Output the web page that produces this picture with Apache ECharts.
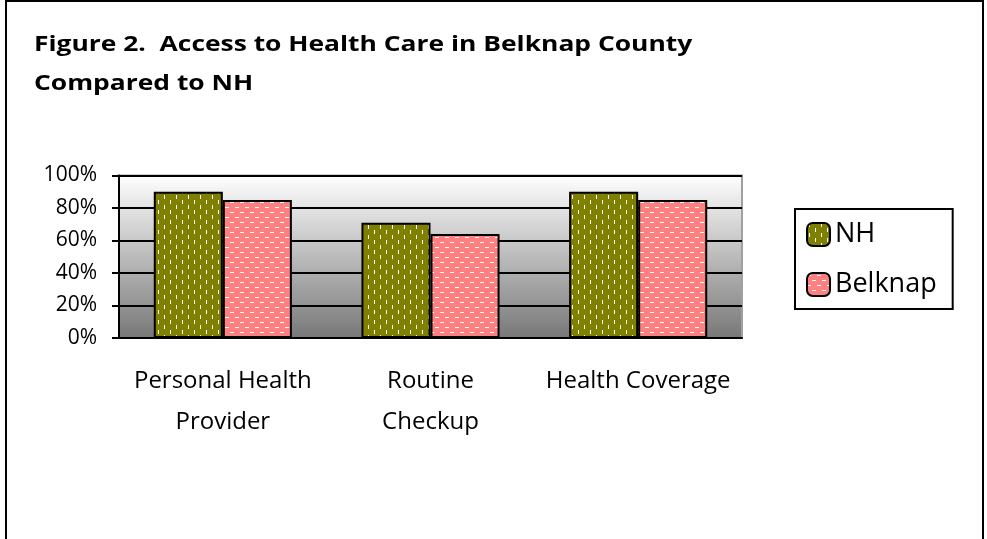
<!DOCTYPE html>
<html>
<head>
<meta charset="utf-8">
<script src="https://cdn.jsdelivr.net/npm/echarts@6/dist/echarts.min.js"></script>
<style>
  html, body { margin: 0; padding: 0; background: #fff; }
  #chart { width: 987px; height: 539px; }
</style>
</head>
<body>
<div id="chart"></div>
<script>
// data
const categories = ['Personal Health\nProvider', 'Routine\nCheckup', 'Health Coverage'];
const nhValues = [90, 71, 90];
const belknapValues = [85, 64, 85];
const yTicks = [0, 20, 40, 60, 80, 100];

// dashed fill patterns like the old Excel textures
function makePattern(bg, vertical) {
    const c = document.createElement('canvas');
    c.width = vertical ? 12 : 10;
    c.height = 10;
    const ctx = c.getContext('2d');
    ctx.fillStyle = bg;
    ctx.fillRect(0, 0, c.width, c.height);
    ctx.fillStyle = '#ffffff';
    if (vertical) {
        ctx.fillRect(2, 0, 1, 4);
        ctx.fillRect(8, 5, 1, 4);
    } else {
        ctx.fillRect(0, 2, 4, 1);
        ctx.fillRect(5, 7, 4, 1);
    }
    return { image: c, repeat: 'repeat' };
}

const chart = echarts.init(document.getElementById('chart'));

const options = {
    animation: false,
    backgroundColor: '#ffffff',
    textStyle: { fontFamily: 'Open Sans' },
    graphic: [
        { // outer frame
            type: 'rect',
            shape: { x: 6, y: 1, width: 977, height: 560 },
            style: { fill: 'none', stroke: '#000', lineWidth: 2 }
        },
        { // title is letter-spaced in the original, so stretch it a bit
            type: 'text', x: 34, y: 25, scaleX: 1.2,
            style: {
                text: 'Figure 2.  Access to Health Care in Belknap County\nCompared to NH',
                font: 'bold 22px "Open Sans"', fill: '#000', lineHeight: 39
            }
        }
    ],
    grid: {
        left: 119, right: 245, top: 175.5, bottom: 201,
        show: true,
        borderColor: '#a0a0a0',
        borderWidth: 2,
        backgroundColor: new echarts.graphic.LinearGradient(0, 0, 0, 1, [
            { offset: 0, color: '#ffffff' },
            { offset: 1, color: '#777777' }
        ])
    },
    legend: {
        orient: 'vertical',
        left: 795, top: 209,
        padding: [12, 16, 11, 11],
        itemGap: 23,
        itemWidth: 23, itemHeight: 23,
        borderColor: '#000', borderWidth: 2,
        backgroundColor: '#fff',
        textStyle: { fontSize: 27, color: '#000', lineHeight: 23 },
        data: ['NH', 'Belknap']
    },
    xAxis: {
        type: 'category',
        data: categories,
        axisLine: { lineStyle: { color: '#000', width: 2 } },
        axisTick: { length: 8, lineStyle: { color: '#000', width: 2 } },
        axisLabel: { interval: 0, fontSize: 24, color: '#000', lineHeight: 41, margin: 23 }
    },
    yAxis: {
        type: 'value',
        min: 0, max: 100, interval: 20,
        axisLine: { show: true, lineStyle: { color: '#000', width: 2 } },
        axisTick: { show: true, length: 7, lineStyle: { color: '#000', width: 2 } },
        splitLine: { lineStyle: { color: '#000', width: 2 } },
        axisLabel: {
            fontSize: 21, color: '#000', margin: 22,
            formatter: (v) => yTicks.includes(v) ? v + '%' : ''
        }
    },
    series: [
        {
            name: 'NH', type: 'bar',
            data: nhValues,
            barGap: '0%', barCategoryGap: '33.5%',
            itemStyle: { color: makePattern('#808000', true), borderColor: '#000', borderWidth: 2 }
        },
        {
            name: 'Belknap', type: 'bar',
            data: belknapValues,
            itemStyle: { color: makePattern('#ff8080', false), borderColor: '#000', borderWidth: 2 }
        }
    ]
};

chart.setOption(options);
</script>
</body>
</html>
